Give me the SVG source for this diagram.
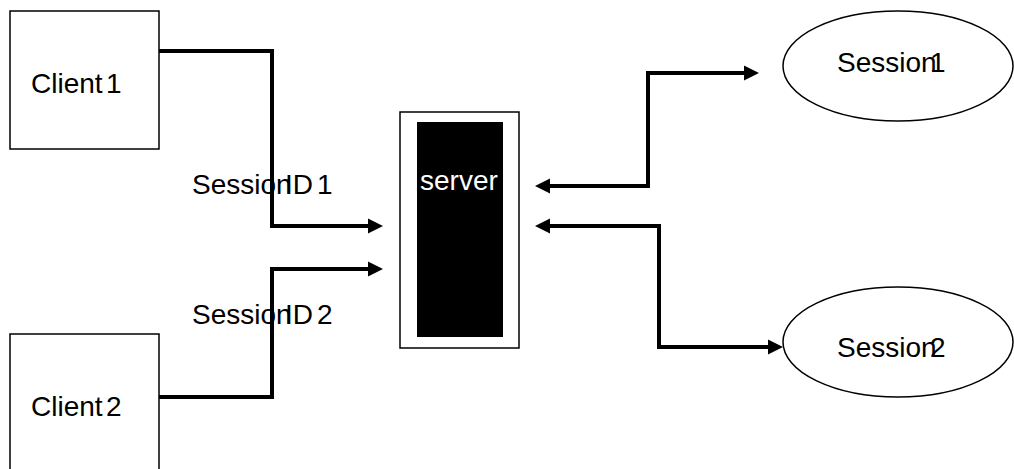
<svg xmlns="http://www.w3.org/2000/svg" width="1014" height="469" viewBox="0 0 1014 469">
<style>
.box{fill:#fff;stroke:#000;stroke-width:1.5}
.lbl{font-family:"Liberation Sans",Arial,sans-serif;font-size:28px;fill:#000}
.wlbl{font-family:"Liberation Sans",Arial,sans-serif;font-size:28px;fill:#fff}
.conn{fill:none;stroke:#000;stroke-width:4;stroke-linejoin:miter}
</style>
<defs>
<marker id="arr" markerUnits="userSpaceOnUse" markerWidth="16" markerHeight="16" viewBox="0 0 16 16" refX="1" refY="8" orient="auto-start-reverse">
<path d="M0,0.5 L15,8 L0,15.5 Z" fill="#000"/>
</marker>
</defs>
<rect width="1014" height="469" fill="#fff"/>
<g id="client1">
<rect class="box" x="10" y="11" width="149" height="138"/>
<text class="lbl" y="93"><tspan x="31">Client</tspan><tspan x="106">1</tspan></text>
</g>
<g id="client2">
<rect class="box" x="10" y="334" width="149" height="160"/>
<text class="lbl" y="416"><tspan x="31">Client</tspan><tspan x="106">2</tspan></text>
</g>
<g id="server">
<rect class="box" x="400" y="112" width="119" height="236"/>
<rect x="417" y="122" width="86" height="215" fill="#000"/>
<text class="wlbl" x="420" y="190">server</text>
</g>
<g id="session1">
<ellipse class="box" cx="898" cy="66" rx="115" ry="55"/>
<text class="lbl" y="72"><tspan x="837">Session</tspan><tspan x="930">1</tspan></text>
</g>
<g id="session2">
<ellipse class="box" cx="898" cy="342" rx="115" ry="55"/>
<text class="lbl" y="357"><tspan x="837">Session</tspan><tspan x="930">2</tspan></text>
</g>
<g id="connectors">
<path class="conn" d="M159,51 H272 V226 H369" marker-end="url(#arr)"/>
<path class="conn" d="M159,397 H272 V269 H369" marker-end="url(#arr)"/>
<path class="conn" d="M549,186 H648 V73 H745" marker-start="url(#arr)" marker-end="url(#arr)"/>
<path class="conn" d="M549,226 H659 V347 H769" marker-start="url(#arr)" marker-end="url(#arr)"/>
<text class="lbl" y="194"><tspan x="192">Session</tspan><tspan x="285">ID</tspan><tspan x="317">1</tspan></text>
<text class="lbl" y="324"><tspan x="192">Session</tspan><tspan x="285">ID</tspan><tspan x="317">2</tspan></text>
</g>
</svg>
